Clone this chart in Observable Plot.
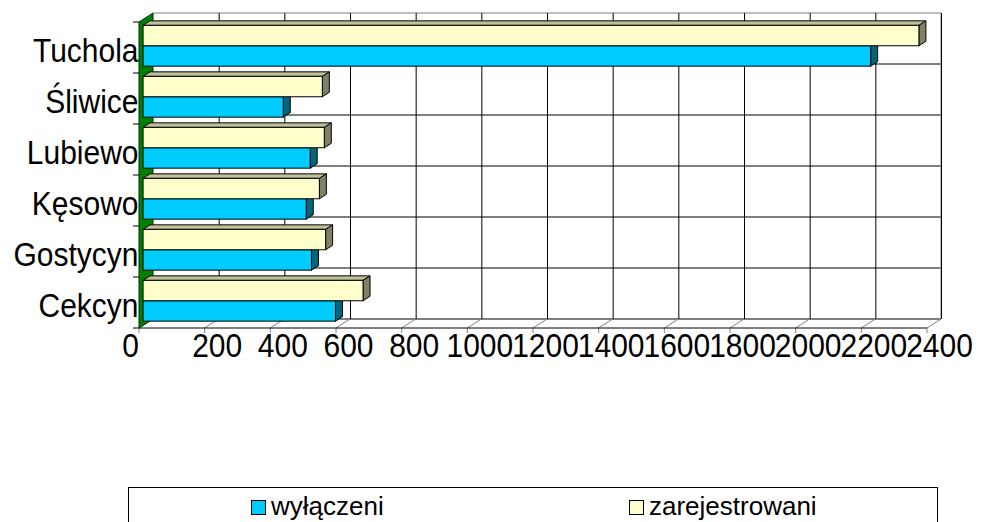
<!DOCTYPE html>
<html>
<head>
<meta charset="utf-8">
<script src="https://cdn.jsdelivr.net/npm/d3@7"></script>
<script src="https://cdn.jsdelivr.net/npm/@observablehq/plot@0.6"></script>
<style>
  html, body { margin: 0; padding: 0; background: #fff; }
  #wrap { position: relative; width: 984px; height: 522px; overflow: hidden; font-family: "Liberation Sans", Arial, sans-serif; }
  #legend { position: absolute; left: 128px; top: 487px; width: 810px; height: 60px; border: 1px solid #000; box-sizing: border-box; background: #fff; }
  .item { position: absolute; top: 5px; font-size: 26px; line-height: 26px; color: #000; white-space: nowrap; }
  .sw { display: inline-block; width: 13px; height: 13px; border: 1px solid #000; vertical-align: 0px; margin-right: 5px; }
</style>
</head>
<body>
<div id="wrap"><div id="chart"></div><div id="legend"></div></div>
<script>
// ---- data ----
const categories = ["Tuchola", "Śliwice", "Lubiewo", "Kęsowo", "Gostycyn", "Cekcyn"];
const wylaczeni = [2216, 427, 509, 497, 513, 586];
const zarejestrowani = [2363, 546, 552, 537, 556, 670];
const seriesNames = ["wyłączeni", "zarejestrowani"];
const xTicks = [0, 200, 400, 600, 800, 1000, 1200, 1400, 1600, 1800, 2000, 2200, 2400];

// ---- layout / style ----
const W = 984, H = 485, ML = 139, MR = 57, MT = 22, MB = 157;
const DX = 14, DY = -9;          // depth offset of back wall
const D0 = 0.29, D1 = 0.79;      // bar depth (front, back)
const TOPF = 0.117, HF = 0.4;    // bar slot in band
const FONT = "'Liberation Sans', Arial, sans-serif";

const series = [
  {name: seriesNames[0], values: wylaczeni, front: "#00CCFF", top: "#0099C0", side: "#006680", slot: 1},
  {name: seriesNames[1], values: zarejestrowani, front: "#FFFFCC", top: "#C0C09A", side: "#808066", slot: 0}
];

const bw = Plot.scale({y: {type: "band", domain: categories, range: [MT, H - MB], padding: 0}}).bandwidth;

function custom(fn) {
  return (index, scales, values, dims) => {
    const g = d3.create("svg:g");
    fn(g, scales, dims);
    return g.node();
  };
}

// back wall: horizontal gridlines + border
const backWall = custom((g, {x, y}) => {
  const b = y.bandwidth();
  const x0 = x(0) + DX, x1 = x(2400) + DX;
  const yb = y(categories[categories.length - 1]) + b + DY;
  categories.slice(1).forEach(c => {
    g.append("line").attr("x1", x0).attr("x2", x1).attr("y1", y(c) + DY).attr("y2", y(c) + DY).attr("stroke", "#000");
  });
  g.append("line").attr("x1", x0).attr("x2", x1).attr("y1", yb).attr("y2", yb).attr("stroke", "#000");
  const yt = y(categories[0]) + DY;
  g.append("path").attr("fill", "none").attr("stroke", "#808080")
    .attr("d", `M${x0},${yt}L${x1},${yt}L${x1},${yb}`);
});

// floor, left wall, axis ticks
const floorWall = custom((g, {x, y}) => {
  const b = y.bandwidth();
  const yF = y(categories[categories.length - 1]) + b;
  const yT = y(categories[0]);
  xTicks.forEach(t => {
    g.append("line").attr("x1", x(t)).attr("y1", yF).attr("x2", x(t) + DX).attr("y2", yF + DY).attr("stroke", "#808080");
    g.append("line").attr("x1", x(t)).attr("y1", yF).attr("x2", x(t)).attr("y2", yF + 5).attr("stroke", "#808080");
  });
  g.append("line").attr("x1", x(0)).attr("x2", x(2400)).attr("y1", yF).attr("y2", yF).attr("stroke", "#000");
  // left wall
  g.append("path").attr("fill", "#008000").attr("stroke", "#003000")
    .attr("d", `M${x(0)},${yF}L${x(0)},${yT}L${x(0) + DX},${yT + DY}L${x(0) + DX},${yF + DY}Z`);
  // y ticks
  categories.forEach(c => {
    g.append("line").attr("x1", x(0) - 6).attr("x2", x(0)).attr("y1", y(c)).attr("y2", y(c)).attr("stroke", "#000");
  });
  g.append("line").attr("x1", x(0) - 6).attr("x2", x(0)).attr("y1", yF).attr("y2", yF).attr("stroke", "#000");
});

function faces(s) {
  return custom((g, {x, y}) => {
    const b = y.bandwidth();
    const ox = (D1 - D0) * DX, oy = (D1 - D0) * DY;
    categories.forEach((c, i) => {
      const v = s.values[i];
      const xl = x(0) + D0 * DX, xr = x(v) + D0 * DX;
      const yt = y(c) + b * (TOPF + HF * s.slot) + D0 * DY, yb = yt + b * HF;
      g.append("path").attr("fill", s.top).attr("stroke", "#000").attr("stroke-linejoin", "round")
        .attr("d", `M${xl},${yt}L${xr},${yt}L${xr + ox},${yt + oy}L${xl + ox},${yt + oy}Z`);
      g.append("path").attr("fill", s.side).attr("stroke", "#000").attr("stroke-linejoin", "round")
        .attr("d", `M${xr},${yt}L${xr + ox},${yt + oy}L${xr + ox},${yb + oy}L${xr},${yb}Z`);
    });
  });
}

function fronts(s) {
  const rows = categories.map((c, i) => ({cat: c, value: s.values[i]}));
  return Plot.barX(rows, {
    y: "cat", x1: d => 0, x2: "value",
    fill: s.front, stroke: "#000", strokeWidth: 1,
    insetTop: bw * (TOPF + HF * s.slot),
    insetBottom: bw * (1 - TOPF - HF * s.slot - HF),
    dx: D0 * DX, dy: D0 * DY
  });
}

const chart = Plot.plot({
  width: W, height: H,
  marginLeft: ML, marginRight: MR, marginTop: MT, marginBottom: MB,
  style: {fontFamily: FONT, background: "#fff", overflow: "visible"},
  x: {domain: [0, 2400], axis: null},
  y: {type: "band", domain: categories, padding: 0, axis: null},
  marks: [
    backWall,
    Plot.ruleX(xTicks.slice(1), {x: d => d, dx: DX, dy: DY, stroke: "#000", strokeOpacity: 1}),
    floorWall,
    faces(series[0]), fronts(series[0]),
    faces(series[1]), fronts(series[1]),
    Plot.text(categories, {y: d => d, text: d => d, frameAnchor: "left", textAnchor: "end", dx: -1, dy: 3, fontSize: 30, fill: "#000"}),
    Plot.text(xTicks.filter(d => d === 0), {x: d => d, text: d => String(d), frameAnchor: "bottom", lineAnchor: "top", dy: 5, dx: -9, fontSize: 30, fill: "#000"}),
    Plot.text(xTicks.filter(d => d !== 0), {x: d => d, text: d => String(d), frameAnchor: "bottom", lineAnchor: "top", dy: 5, dx: 12, fontSize: 30, fill: "#000"})
  ]
});
// slightly taller glyphs, like the reference
d3.select(chart).selectAll("text").each(function() {
  const t = this.getAttribute("transform");
  if (t) {
    this.setAttribute("transform", t + " scale(1,1.1)");
  } else {
    const x = +this.getAttribute("x") || 0, y = +this.getAttribute("y") || 0;
    this.setAttribute("transform", `translate(${x},${y}) scale(1,1.1) translate(${-x},${-y})`);
  }
});
document.getElementById("chart").appendChild(chart);

// legend
const legend = document.getElementById("legend");
const legendPos = [122, 500];
series.forEach((s, i) => {
  const it = document.createElement("div");
  it.className = "item";
  it.style.left = legendPos[i] + "px";
  const sw = document.createElement("span");
  sw.className = "sw";
  sw.style.background = s.front;
  it.appendChild(sw);
  it.appendChild(document.createTextNode(s.name));
  legend.appendChild(it);
});
</script>
</body>
</html>
